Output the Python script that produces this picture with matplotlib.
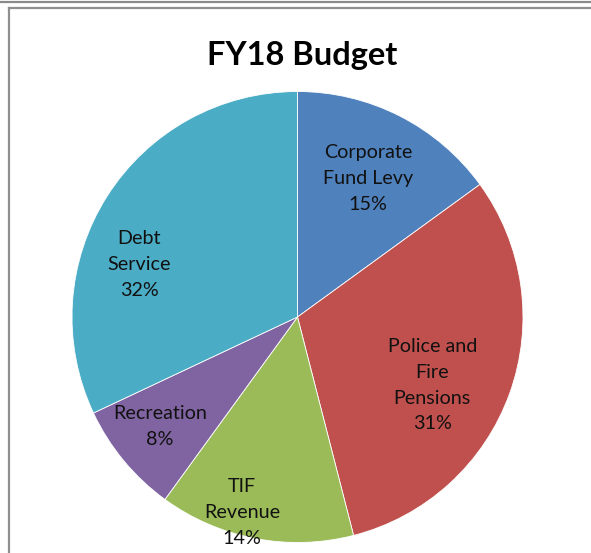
import numpy as np
import matplotlib.pyplot as plt
from matplotlib.lines import Line2D

plt.rcParams['font.family'] = ['Lato', 'DejaVu Sans']

categories = ['Corporate\nFund Levy', 'Police and\nFire\nPensions', 'TIF\nRevenue',
              'Recreation', 'Debt\nService']
shares = [15, 31, 14, 8, 32]
colors = ['#4F81BD', '#C0504D', '#9BBB59', '#8064A2', '#4BACC6']

# where each label sits: fraction of the radius and a nudge off the wedge centre
label_r = [0.69, 0.67, 0.90, 0.78, 0.74]
label_shift = [0, -7, -5, -1, 14]

fig = plt.figure(figsize=(5.91, 5.53), dpi=100)

# page rule and chart frame
fig.add_artist(Line2D([0, 1], [1 - 1.5 / 553] * 2, color='#8a8a8a', lw=1.6))
fig.add_artist(Line2D([8.5 / 591, 1], [1 - 8 / 553] * 2, color='#8f8f8f', lw=1.6))
fig.add_artist(Line2D([8.5 / 591] * 2, [0, 1 - 8 / 553], color='#8f8f8f', lw=1.6))

fig.text(302 / 591, 1 - 55 / 553, 'FY18 Budget', ha='center', va='center',
         fontsize=23.5, fontweight='bold')

rad = 225.5
cx, cy = 297.5, 553 - 317
ax = fig.add_axes([(cx - rad) / 591, (cy - rad) / 553, 2 * rad / 591, 2 * rad / 553])
wedges, _ = ax.pie(shares, colors=colors, startangle=90, counterclock=False,
                   wedgeprops=dict(edgecolor='white', linewidth=0.6))
ax.set_xlim(-1, 1)
ax.set_ylim(-1, 1)
ax.set_aspect('equal')
ax.axis('off')

for w, name, v, r, s in zip(wedges, categories, shares, label_r, label_shift):
    mid = np.deg2rad((w.theta1 + w.theta2) / 2 + s)
    ax.text(r * np.cos(mid), r * np.sin(mid), f'{name}\n{v}%', ha='center',
            va='center', fontsize=14.2, linespacing=1.63, color='#111111')

fig.savefig('out.png', dpi=100)
